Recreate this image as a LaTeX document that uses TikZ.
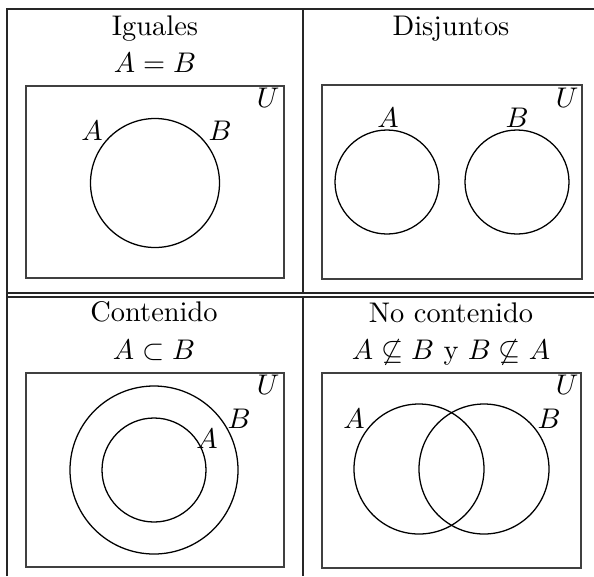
\documentclass[tikz,border=0pt]{standalone}
\usepackage{amsmath,amssymb}
\usepackage{tikz}
\usetikzlibrary{positioning}
\tikzset{
  tabla/.style={draw=black!85,line width=0.45pt},
  universo/.style={draw=black!75,line width=0.5pt},
  conjunto/.style={draw,line width=0.45pt},
  titulo/.style={anchor=base,inner sep=0pt,font=\normalsize},
  etiqueta/.style={anchor=base,inner sep=0pt}
}

\begin{document}
\begin{tikzpicture}[x=0.352pt,y=-0.352pt]
\useasboundingbox (0,0) rectangle (594,576);

% cuadro de la tabla
\draw[tabla] (7,576)--(7,9)--(594,9);
\draw[tabla] (7,293)--(594,293);
\draw[tabla] (7,297)--(594,297);
\draw[tabla] (303,9)--(303,293);
\draw[tabla] (303,297)--(303,576);

% Iguales
\node[titulo] (tigu) at (155,35) {Iguales};
\node[titulo] (eigu) at (155,72) {$A=B$};
\draw[universo] (26,86) rectangle (284,278);
\node[etiqueta] (uigu) at (268,107) {$U$};
\draw[conjunto] (155,183) circle (64.5);
\node[etiqueta] (aigu) at (92,140) {$A$};
\node[etiqueta] (bigu) at (220,140) {$B$};

% Disjuntos
\node[titulo] (tdis) at (451,35) {Disjuntos};
\draw[universo] (322,85) rectangle (582,279);
\node[etiqueta] (udis) at (567,107) {$U$};
\draw[conjunto] (387,182) circle (52);
\draw[conjunto] (517,182) circle (52);
\node[etiqueta] (adis) at (388,127) {$A$};
\node[etiqueta] (bdis) at (517,127) {$B$};

% Contenido
\node[titulo] (tcon) at (154,321) {Contenido};
\node[titulo] (econ) at (154,359) {$A\subset B$};
\draw[universo] (26,373) rectangle (284,567);
\node[etiqueta] (ucon) at (268,394) {$U$};
\draw[conjunto] (154,470) circle (84);
\draw[conjunto] (154,470) circle (52);
\node[etiqueta] (bcon) at (239,428) {$B$};
\node[etiqueta] (acon) at (207,448) {$A$};

% No contenido
\node[titulo] (tnoc) at (451,322) {No contenido};
\node[titulo] (enoc) at (451,359) {$A\not\subseteq B$ y $B\not\subseteq A$};
\draw[universo] (322,373) rectangle (581,568);
\node[etiqueta] (unoc) at (567,394) {$U$};
\draw[conjunto] (419,469) circle (65);
\draw[conjunto] (484,469) circle (65);
\node[etiqueta] (anoc) at (354,428) {$A$};
\node[etiqueta] (bnoc) at (549,428) {$B$};
\end{tikzpicture}
\end{document}
